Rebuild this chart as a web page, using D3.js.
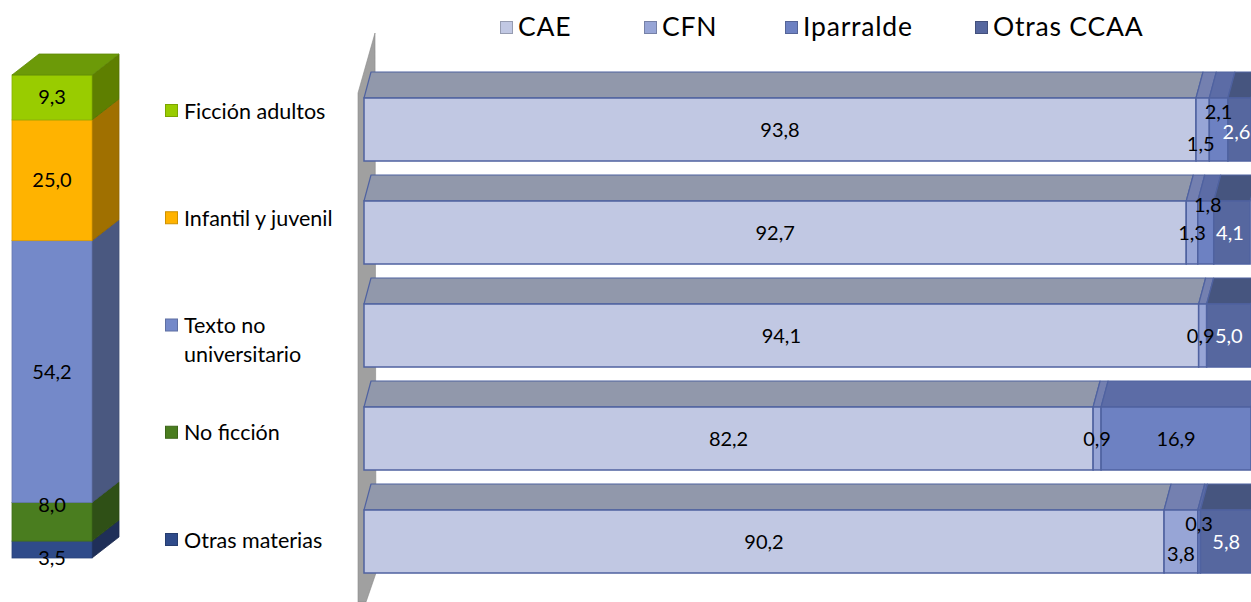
<!DOCTYPE html>
<html><head><meta charset="utf-8">
<script src="https://cdn.jsdelivr.net/npm/d3@7"></script>
<style>
body{margin:0;background:#fff;}
svg{display:block;font-family:Lato,"Open Sans",sans-serif;}
</style>
</head><body>
<svg id="c" width="1251" height="602"></svg>
<script>
// ---- data ----
const genres = ["Ficción adultos","Infantil y juvenil","Texto no universitario","No ficción","Otras materias"];
const genreShares = [9.3, 25.0, 54.2, 8.0, 3.5];
const regions = ["CAE","CFN","Iparralde","Otras CCAA"];
const cae = [93.8, 92.7, 94.1, 82.2, 90.2];
const cfn = [1.5, 1.3, 0.9, 0.9, 3.8];
const iparralde = [2.1, 1.8, 0, 16.9, 0.3];
const otras = [2.6, 4.1, 5.0, 0, 5.8];

// ---- styles / layout ----
const genreColors = ["#99cc00","#ffb300","#7489c9","#4a7d1f","#2f4b8a"];
const genreSide = ["#5e7f00","#a07000","#4a5880","#2f5016","#1f2f58"];
const genreTop = ["#6c9a08","#b07c00","#55669a","#38601a","#243a6a"];
const regionFront = ["#c1c8e3","#97a5d6","#6d81c2","#56679f"];
const regionTop = ["#9198ab","#7480b0","#5c6ca6","#46557f"];
const regionLabel = ["#000","#000","#000","#fff"];
const labelDy = [[0,14,-18,2],[0,0,-28,0],[0,0,0,0],[0,0,0,0],[0,12,-18,0]];
const labelDx = [[0,-2,0,-3],[0,0,2,-2],[0,-2,0,0],[0,0,0,0],[0,0,0,0]];
const genreLabelDy = [0,0,0,-17,8];
const legendX = [500,644,785,975];
const fmt = v => d3.format(".1f")(v).replace(".", ",");

const svg = d3.select("#c");

// ---- left stacked 3D column ----
const yL = d3.scaleLinear().domain([0,100]).range([558,75]);
const colX0 = 12, colX1 = 92, cdx = 27, cdy = -21;
let acc = 0;
const segs = [];
for (let i = genres.length - 1; i >= 0; i--) {
  segs.push({i, y0: acc, y1: acc + genreShares[i]});
  acc += genreShares[i];
}
const gL = svg.append("g");
segs.forEach(s => {
  const top = yL(s.y1), bot = yL(s.y0);
  gL.append("path")
    .attr("d", `M${colX1},${bot}L${colX1+cdx},${bot+cdy}L${colX1+cdx},${top+cdy}L${colX1},${top}Z`)
    .attr("fill", genreSide[s.i]).attr("stroke", d3.color(genreSide[s.i]).darker(0.3)).attr("stroke-width",0.8);
  gL.append("rect")
    .attr("x", colX0).attr("y", top).attr("width", colX1-colX0).attr("height", bot-top)
    .attr("fill", genreColors[s.i]).attr("stroke", d3.color(genreColors[s.i]).darker(0.4)).attr("stroke-width",0.8);
});
{
  const last = segs[segs.length-1];
  const t = yL(last.y1);
  gL.append("path")
    .attr("d", `M${colX0},${t}L${colX0+cdx},${t+cdy}L${colX1+cdx},${t+cdy}L${colX1},${t}Z`)
    .attr("fill", genreTop[last.i]).attr("stroke", d3.color(genreTop[last.i]).darker(0.3)).attr("stroke-width",0.8);
}
segs.forEach(s => {
  gL.append("text")
    .attr("x", (colX0+colX1)/2).attr("y", (yL(s.y0)+yL(s.y1))/2 + genreLabelDy[s.i])
    .attr("dy","0.35em").attr("text-anchor","middle")
    .attr("font-size",20).attr("fill","#000").text(fmt(genreShares[s.i]));
});

// ---- left legend ----
const yLeg = d3.scalePoint().domain(genres).range([111,540]);
const gLeg = svg.append("g");
genres.forEach((g,i) => {
  const y = yLeg(g);
  gLeg.append("rect").attr("x",165.5).attr("y",y-6.5).attr("width",12).attr("height",12)
    .attr("fill",genreColors[i]).attr("stroke",d3.color(genreColors[i]).darker(0.6)).attr("stroke-width",1);
  const t = gLeg.append("text").attr("x",184).attr("y",y).attr("dy","0.35em")
    .attr("font-size",21.5).attr("fill","#000");
  if (g === "Texto no universitario") {
    t.append("tspan").attr("x",184).text("Texto no");
    t.append("tspan").attr("x",184).attr("dy","1.35em").text("universitario");
  } else t.text(g);
});

// ---- right 3D horizontal bars ----
const x = d3.scaleLinear().domain([0,100]).range([364,1251]);
const yB = d3.scaleBand().domain(genres).range([98,573]).paddingInner(40/103).paddingOuter(0);
const tdx = 7, tdy = -26;

svg.append("path")
  .attr("d","M358,93L375,33L376,573L366,602L358,602Z")
  .attr("fill","#a0a0a0").attr("stroke","#8a8a8a").attr("stroke-width",0.6);

const series = [cae, cfn, iparralde, otras];
const gB = svg.append("g");
genres.forEach((g, bi) => {
  const y0 = yB(g), h = yB.bandwidth();
  let a = 0;
  const parts = series.map((s, si) => { const p = {si, v: s[bi], a0: a, a1: a + s[bi]}; a += s[bi]; return p; })
    .filter(p => p.v > 0);
  parts.forEach(p => {
    const xa = x(p.a0), xb = x(p.a1);
    gB.append("path")
      .attr("d", `M${xa},${y0}L${xa+tdx},${y0+tdy}L${xb+tdx},${y0+tdy}L${xb},${y0}Z`)
      .attr("fill", regionTop[p.si]).attr("stroke","#4f62a0").attr("stroke-width",1.2).attr("stroke-linejoin","round");
  });
  parts.forEach(p => {
    gB.append("rect").attr("x", x(p.a0)).attr("y", y0).attr("width", x(p.a1)-x(p.a0)).attr("height", h)
      .attr("fill", regionFront[p.si]).attr("stroke","#4f62a0").attr("stroke-width",1.5);
  });
  parts.forEach(p => {
    gB.append("text")
      .attr("x", (x(p.a0)+x(p.a1))/2 + labelDx[bi][p.si]).attr("y", y0 + h/2 + labelDy[bi][p.si])
      .attr("dy","0.35em").attr("text-anchor","middle")
      .attr("font-size",20).attr("fill", regionLabel[p.si]).text(fmt(p.v));
  });
});

// ---- top legend ----
const gT = svg.append("g");
regions.forEach((r,i) => {
  const lx = legendX[i];
  gT.append("rect").attr("x",lx+0.5).attr("y",21.5).attr("width",12).attr("height",12)
    .attr("fill",regionFront[i]).attr("stroke",d3.color(regionFront[i]).darker(0.7)).attr("stroke-width",1);
  gT.append("text").attr("x",lx+18).attr("y",27).attr("dy","0.35em")
    .attr("font-size",26.5).attr("letter-spacing",0.8).attr("fill","#000").text(r);
});
</script>
</body></html>
